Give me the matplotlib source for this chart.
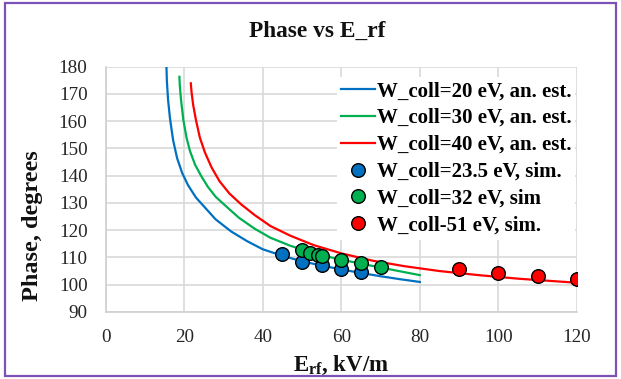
import matplotlib
matplotlib.use("Agg")
import matplotlib.pyplot as plt
from matplotlib.patches import Rectangle

plt.rcParams["font.family"] = ["Liberation Serif", "DejaVu Serif"]
plt.rcParams["mathtext.fontset"] = "custom"
plt.rcParams["mathtext.rm"] = "Liberation Serif"
plt.rcParams["mathtext.bf"] = "Liberation Serif:bold"
plt.rcParams["mathtext.it"] = "Liberation Serif:italic"

# Analytic estimates of the phase (degrees) versus RF field (kV/m)
e_20 = [15.5, 15.6, 15.9, 16.4, 17.2, 18.2, 19.5, 21, 23, 25, 28, 32, 36, 40,
        45, 50, 55, 60, 65, 70, 75, 80]
ph_20 = [180, 175, 168, 161, 153, 146.5, 141, 136.5, 132, 128.8, 124, 119.5,
         116, 113, 110.6, 108.6, 107, 105.6, 104.3, 103.1, 102, 101]

e_30 = [18.8, 18.9, 19.2, 19.8, 20.6, 21.5, 22.8, 24.3, 26, 28, 30.5, 34, 38,
        42, 47, 52, 58, 64, 70, 75, 80]
ph_30 = [176.3, 173, 168, 160.5, 154, 149, 144, 140, 136, 132.3, 129, 124.5,
         120.5, 117.2, 114.3, 112, 109.8, 108, 106.3, 104.9, 103.5]

e_40 = [21.7, 21.9, 22.3, 23, 24, 25.3, 27, 29, 31.5, 34.5, 38, 42, 47, 53,
        60, 68, 76, 85, 95, 105, 115, 120]
ph_40 = [173.9, 170.5, 166, 160.5, 154, 148.5, 143, 138, 133.5, 129.5, 125.5,
         121.5, 118, 114.5, 111.5, 108.8, 106.8, 105, 103.5, 102.2, 101.2, 100.7]

# Simulation results
sim_e_235 = [45, 50, 55, 60, 65]
sim_ph_235 = [111.2, 108.4, 107.1, 105.9, 104.5]

sim_e_32 = [50, 52, 54, 55, 60, 65, 70]
sim_ph_32 = [112.6, 111.6, 111.0, 110.4, 109.1, 107.8, 106.6]

sim_e_51 = [90, 100, 110, 120]
sim_ph_51 = [105.7, 104.2, 103.0, 102.0]

labels = ["W_coll=20 eV, an. est.", "W_coll=30 eV, an. est.",
          "W_coll=40 eV, an. est.", "W_coll=23.5 eV, sim.",
          "W_coll=32 eV, sim", "W_coll-51 eV, sim."]

x_ticks = [0, 20, 40, 60, 80, 100, 120]
y_ticks = [90, 100, 110, 120, 130, 140, 150, 160, 170, 180]

BLUE = "#0070C0"
GREEN = "#00B050"
RED = "#FF0000"

fig = plt.figure(figsize=(6.21, 3.79), dpi=100)
ax = fig.add_axes([0.170, 0.177, 0.759, 0.647])

ax.plot(e_20, ph_20, color=BLUE, lw=1.6, label=labels[0], zorder=3)
ax.plot(e_30, ph_30, color=GREEN, lw=1.6, label=labels[1], zorder=3)
ax.plot(e_40, ph_40, color=RED, lw=1.6, label=labels[2], zorder=3)

mk = dict(marker="o", ls="none", ms=9.8, mec="black", mew=1.0, zorder=4)
ax.plot(sim_e_235, sim_ph_235, mfc=BLUE, label=labels[3], **mk)
ax.plot(sim_e_32, sim_ph_32, mfc=GREEN, label=labels[4], **mk)
ax.plot(sim_e_51, sim_ph_51, mfc=RED, label=labels[5], **mk)

ax.set_xlim(0, 120)
ax.set_ylim(90, 180)
ax.set_xticks(x_ticks)
ax.set_yticks(y_ticks)
ax.tick_params(length=0, labelsize=13.8, colors="#262626")
ax.tick_params(axis="x", pad=12)
ax.tick_params(axis="y", pad=13)
ax.grid(True, color="#d9d9d9", lw=1.2, zorder=0)
ax.set_axisbelow(True)
for side in ("top", "right"):
    ax.spines[side].set_visible(False)
for side in ("left", "bottom"):
    ax.spines[side].set_color("#d0d0d0")
    ax.spines[side].set_linewidth(1.2)

fig.text(317 / 621, 1 - 37 / 379, "Phase vs E_rf", fontsize=16.8,
         fontweight="bold", color="#111111", ha="center", va="baseline")
ax.set_ylabel("Phase, degrees", fontsize=17.5, fontweight="bold",
              color="#111111")
ax.yaxis.set_label_coords(-0.133, 0.35)
ax.set_xlabel(r"$\mathbf{E_{rf}}$, kV/m", fontsize=16.5, fontweight="bold",
              color="#111111", labelpad=6)

leg = ax.legend(loc="upper right", bbox_to_anchor=(0.997, 0.958),
                prop={"family": "Liberation Serif", "weight": "bold",
                      "size": 15},
                frameon=True, facecolor="white", edgecolor="none",
                framealpha=1.0, handlelength=1.6, handletextpad=0.1,
                labelspacing=0.33, borderpad=0.2, borderaxespad=0.0)
leg.set_zorder(5)

fig.patches.append(Rectangle((5 / 621, 3 / 379), 611 / 621, 373 / 379,
                             transform=fig.transFigure, fill=False,
                             edgecolor="#7d52b8", lw=1.6))

fig.savefig("out.png", dpi=100)
